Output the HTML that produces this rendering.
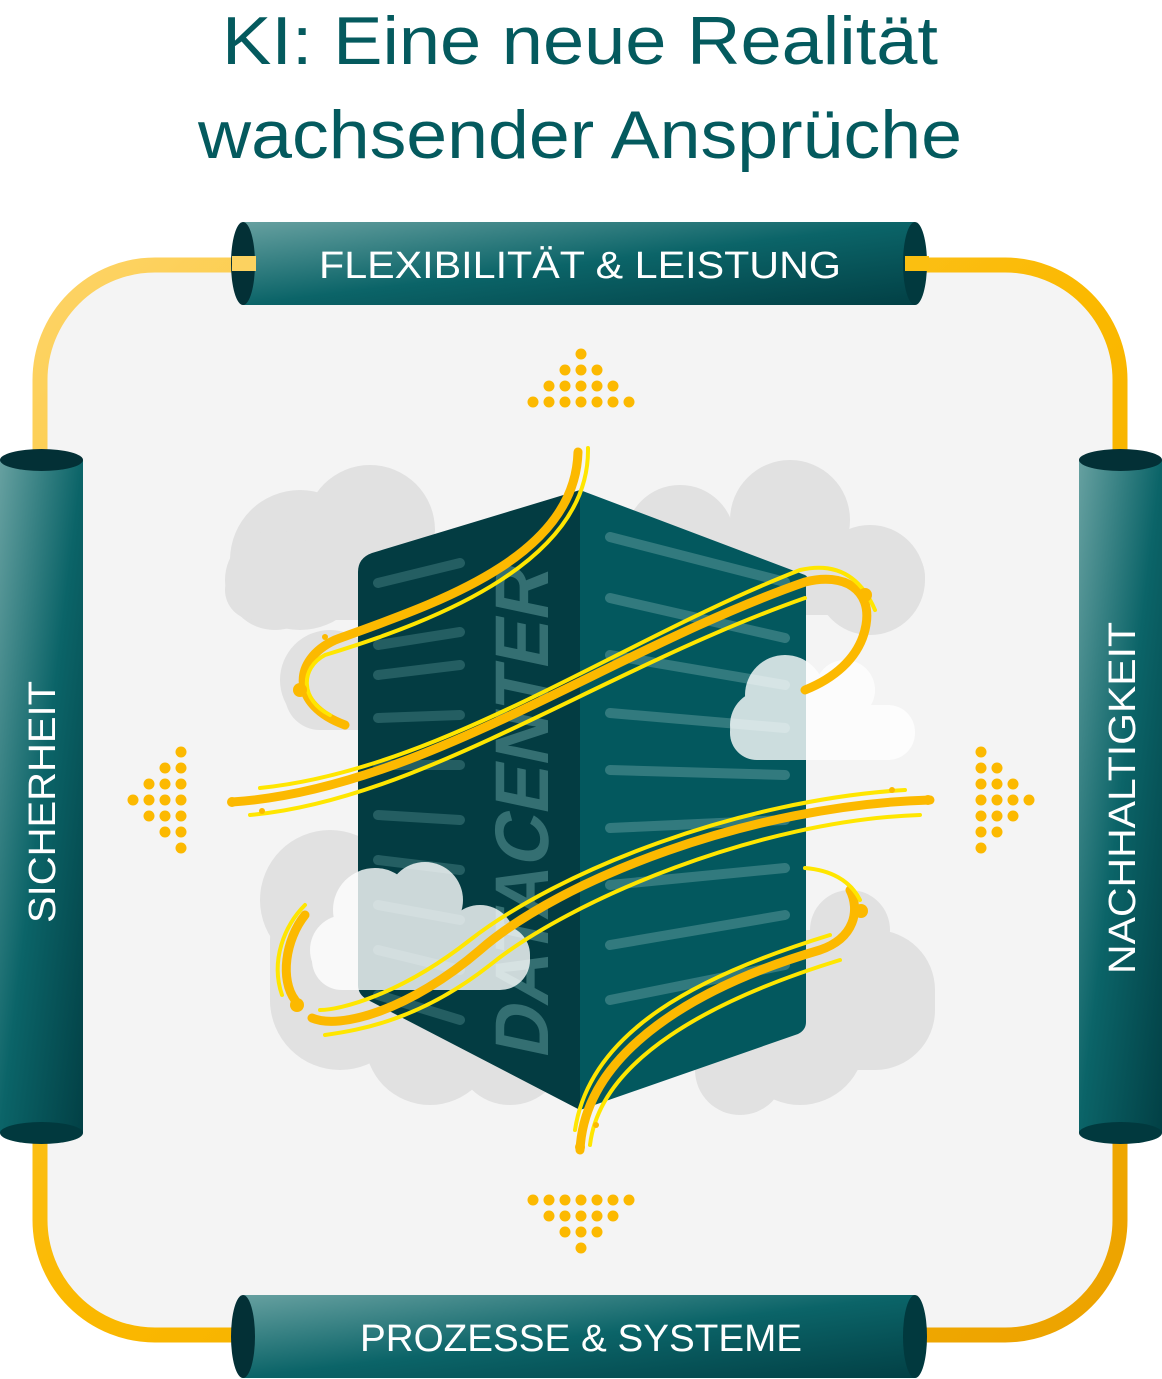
<!DOCTYPE html>
<html><head><meta charset="utf-8"><style>html,body{margin:0;padding:0;background:#fff}svg{display:block}</style></head>
<body>
<svg width="1162" height="1379" viewBox="0 0 1162 1379" xmlns="http://www.w3.org/2000/svg">
<defs>
<linearGradient id="fr" x1="0" y1="0" x2="1" y2="1"><stop offset="0" stop-color="#fdd468"/><stop offset="0.5" stop-color="#fbb900"/><stop offset="1" stop-color="#eca200"/></linearGradient>
<linearGradient id="ph" x1="0" y1="0" x2="1" y2="1"><stop offset="0" stop-color="#66a0a0"/><stop offset="0.5" stop-color="#0b6468"/><stop offset="1" stop-color="#024045"/></linearGradient>
<linearGradient id="pv" x1="0" y1="0" x2="1" y2="1"><stop offset="0" stop-color="#66a0a0"/><stop offset="0.5" stop-color="#0b6468"/><stop offset="1" stop-color="#024045"/></linearGradient>
</defs>
<rect x="40" y="265" width="1080" height="1070" rx="115" fill="#f4f4f4" stroke="url(#fr)" stroke-width="15"/>
<text x="580" y="64" text-anchor="middle" font-family="Liberation Sans, sans-serif" font-size="68" fill="#045a5e" textLength="716" lengthAdjust="spacingAndGlyphs">KI: Eine neue Realität</text>
<text x="580" y="158" text-anchor="middle" font-family="Liberation Sans, sans-serif" font-size="68" fill="#045a5e" textLength="764" lengthAdjust="spacingAndGlyphs">wachsender Ansprüche</text>
<!-- pipes -->
<rect x="243" y="222" width="672" height="83" fill="url(#ph)"/>
<ellipse cx="915" cy="263.5" rx="12" ry="41.5" fill="#01393e"/>
<ellipse cx="243" cy="263.5" rx="12" ry="41.5" fill="#033036"/>
<text x="580" y="278" text-anchor="middle" font-family="Liberation Sans, sans-serif" font-size="38" fill="#fff" textLength="522" lengthAdjust="spacingAndGlyphs">FLEXIBILITÄT &amp; LEISTUNG</text>
<rect x="243" y="1295" width="672" height="83" fill="url(#ph)"/>
<ellipse cx="915" cy="1336.5" rx="12" ry="41.5" fill="#01393e"/>
<ellipse cx="243" cy="1336.5" rx="12" ry="41.5" fill="#033036"/>
<text x="581" y="1351" text-anchor="middle" font-family="Liberation Sans, sans-serif" font-size="38" fill="#fff" textLength="442" lengthAdjust="spacingAndGlyphs">PROZESSE &amp; SYSTEME</text>
<rect x="0" y="460" width="83" height="673" fill="url(#pv)"/>
<ellipse cx="41.5" cy="1133" rx="41.5" ry="11" fill="#01393e"/>
<ellipse cx="41.5" cy="460" rx="41.5" ry="11" fill="#033036"/>
<text transform="translate(55,802) rotate(-90)" text-anchor="middle" font-family="Liberation Sans, sans-serif" font-size="38" fill="#fff" textLength="242" lengthAdjust="spacingAndGlyphs">SICHERHEIT</text>
<rect x="1079" y="460" width="83" height="673" fill="url(#pv)"/>
<ellipse cx="1120.5" cy="1133" rx="41.5" ry="11" fill="#01393e"/>
<ellipse cx="1120.5" cy="460" rx="41.5" ry="11" fill="#033036"/>
<text transform="translate(1135,798) rotate(-90)" text-anchor="middle" font-family="Liberation Sans, sans-serif" font-size="38" fill="#fff" textLength="352" lengthAdjust="spacingAndGlyphs">NACHHALTIGKEIT</text>
<!-- yellow stubs into pipes -->
<rect x="232" y="256" width="24" height="15" fill="#fcd260"/>
<rect x="905" y="256" width="24" height="15" fill="#fbbf10"/>
<!-- dot arrows -->
<g fill="#fcb900">
<circle cx="581" cy="354" r="5.5"/>
<circle cx="565" cy="370" r="5.5"/><circle cx="581" cy="370" r="5.5"/><circle cx="597" cy="370" r="5.5"/>
<circle cx="549" cy="386" r="5.5"/><circle cx="565" cy="386" r="5.5"/><circle cx="581" cy="386" r="5.5"/><circle cx="597" cy="386" r="5.5"/><circle cx="613" cy="386" r="5.5"/>
<circle cx="533" cy="402" r="5.5"/><circle cx="549" cy="402" r="5.5"/><circle cx="565" cy="402" r="5.5"/><circle cx="581" cy="402" r="5.5"/><circle cx="597" cy="402" r="5.5"/><circle cx="613" cy="402" r="5.5"/><circle cx="629" cy="402" r="5.5"/>
<circle cx="581" cy="1248" r="5.5"/>
<circle cx="565" cy="1232" r="5.5"/><circle cx="581" cy="1232" r="5.5"/><circle cx="597" cy="1232" r="5.5"/>
<circle cx="549" cy="1216" r="5.5"/><circle cx="565" cy="1216" r="5.5"/><circle cx="581" cy="1216" r="5.5"/><circle cx="597" cy="1216" r="5.5"/><circle cx="613" cy="1216" r="5.5"/>
<circle cx="533" cy="1200" r="5.5"/><circle cx="549" cy="1200" r="5.5"/><circle cx="565" cy="1200" r="5.5"/><circle cx="581" cy="1200" r="5.5"/><circle cx="597" cy="1200" r="5.5"/><circle cx="613" cy="1200" r="5.5"/><circle cx="629" cy="1200" r="5.5"/>
<circle cx="133" cy="800" r="5.5"/>
<circle cx="149" cy="784" r="5.5"/><circle cx="149" cy="800" r="5.5"/><circle cx="149" cy="816" r="5.5"/>
<circle cx="165" cy="768" r="5.5"/><circle cx="165" cy="784" r="5.5"/><circle cx="165" cy="800" r="5.5"/><circle cx="165" cy="816" r="5.5"/><circle cx="165" cy="832" r="5.5"/>
<circle cx="181" cy="752" r="5.5"/><circle cx="181" cy="768" r="5.5"/><circle cx="181" cy="784" r="5.5"/><circle cx="181" cy="800" r="5.5"/><circle cx="181" cy="816" r="5.5"/><circle cx="181" cy="832" r="5.5"/><circle cx="181" cy="848" r="5.5"/>
<circle cx="1029" cy="800" r="5.5"/>
<circle cx="1013" cy="784" r="5.5"/><circle cx="1013" cy="800" r="5.5"/><circle cx="1013" cy="816" r="5.5"/>
<circle cx="997" cy="768" r="5.5"/><circle cx="997" cy="784" r="5.5"/><circle cx="997" cy="800" r="5.5"/><circle cx="997" cy="816" r="5.5"/><circle cx="997" cy="832" r="5.5"/>
<circle cx="981" cy="752" r="5.5"/><circle cx="981" cy="768" r="5.5"/><circle cx="981" cy="784" r="5.5"/><circle cx="981" cy="800" r="5.5"/><circle cx="981" cy="816" r="5.5"/><circle cx="981" cy="832" r="5.5"/><circle cx="981" cy="848" r="5.5"/>
</g>
<!-- gray clouds -->
<g fill="#e1e1e1">
<circle cx="300" cy="560" r="70"/><circle cx="370" cy="530" r="65"/><circle cx="275" cy="580" r="50"/><rect x="225" y="560" width="200" height="60" rx="30"/>
<circle cx="330" cy="680" r="50"/><rect x="285" y="650" width="130" height="80" rx="35"/>
<circle cx="680" cy="540" r="55"/><circle cx="790" cy="520" r="60"/><circle cx="870" cy="580" r="55"/><rect x="640" y="540" width="285" height="75" rx="37"/>
<circle cx="330" cy="900" r="70"/><circle cx="340" cy="1000" r="70"/><circle cx="430" cy="1040" r="65"/><circle cx="510" cy="1050" r="55"/><rect x="270" y="880" width="300" height="180" rx="60"/>
<circle cx="800" cy="1040" r="65"/><circle cx="870" cy="990" r="60"/><circle cx="850" cy="930" r="40"/><circle cx="740" cy="1070" r="45"/><rect x="700" y="930" width="235" height="140" rx="60"/>
</g>
<!-- server -->
<path d="M580,490 L805,575 Q810,578 806,585 L806,1022 Q806,1030 798,1034 L580,1110 Z" fill="#03585e"/>
<path d="M580,490 L372,553 Q358,558 358,572 L358,985 Q358,995 368,1000 L580,1110 Z" fill="#033c42"/>
<g stroke="#3b8084" stroke-width="10" stroke-linecap="round" opacity="0.85">
<line x1="610" y1="537" x2="785" y2="582"/><line x1="610" y1="598" x2="785" y2="638"/><line x1="610" y1="655" x2="785" y2="685"/>
<line x1="610" y1="713" x2="785" y2="728"/><line x1="610" y1="770" x2="785" y2="775"/><line x1="610" y1="828" x2="785" y2="820"/>
<line x1="610" y1="885" x2="785" y2="868"/><line x1="610" y1="945" x2="785" y2="915"/><line x1="610" y1="1000" x2="785" y2="965"/>
</g>
<g stroke="#2a6468" stroke-width="10" stroke-linecap="round" opacity="0.85">
<line x1="378" y1="583" x2="460" y2="563"/><line x1="378" y1="645" x2="460" y2="632"/><line x1="378" y1="675" x2="460" y2="665"/>
<line x1="378" y1="718" x2="460" y2="715"/><line x1="378" y1="765" x2="460" y2="765"/><line x1="378" y1="815" x2="460" y2="820"/>
<line x1="378" y1="860" x2="460" y2="870"/><line x1="378" y1="905" x2="460" y2="920"/><line x1="378" y1="950" x2="460" y2="970"/><line x1="378" y1="995" x2="460" y2="1020"/>
</g>
<text transform="translate(548,1060) rotate(-90) skewX(-12)" font-family="Liberation Sans, sans-serif" font-weight="bold" font-size="76" fill="#4a8587" opacity="0.7" textLength="490" lengthAdjust="spacingAndGlyphs">DATACENTER</text>
<!-- light clouds -->
<g fill="#ffffff" opacity="0.8">
<circle cx="785" cy="695" r="40"/><circle cx="845" cy="690" r="30"/><circle cx="765" cy="725" r="35"/><rect x="730" y="705" width="185" height="55" rx="27"/>
<circle cx="375" cy="910" r="42"/><circle cx="425" cy="900" r="38"/><circle cx="480" cy="940" r="35"/><circle cx="345" cy="950" r="35"/><rect x="312" y="925" width="218" height="65" rx="30"/>
</g>
<!-- swooshes -->
<g fill="none" stroke-linecap="round">
<g stroke="#fcb900" stroke-width="9">
<path d="M578,452 C575,560 430,605 335,640 C292,660 290,705 345,725"/>
<path d="M232,802 C420,790 610,650 805,582 C845,572 872,590 866,625 C860,660 830,680 805,690"/>
<path d="M930,800 C750,805 560,880 480,950 C410,1010 340,1030 312,1018"/>
<path d="M295,1000 C280,980 285,940 305,915"/>
<path d="M580,1150 C585,1050 700,985 820,950 C855,938 860,910 850,890"/>
</g>
<g stroke="#ffe600" stroke-width="4">
<path d="M588,448 C590,560 440,620 325,655 C300,668 300,700 330,715"/>
<path d="M260,788 C440,770 620,640 800,570 C835,562 860,575 875,610"/>
<path d="M250,815 C420,800 600,670 805,598"/>
<path d="M905,790 C740,800 560,870 470,940 C400,995 340,1010 320,1010"/>
<path d="M920,815 C760,820 570,900 490,965 C420,1020 360,1030 325,1035"/>
<path d="M575,1130 C590,1030 700,975 830,935"/>
<path d="M590,1145 C600,1060 710,1000 840,960"/>
<path d="M805,868 C830,870 850,880 860,900"/>
<path d="M282,995 C270,960 285,925 305,905"/>
</g>
</g>
<g fill="#fcb900">
<circle cx="300" cy="690" r="7"/><circle cx="865" cy="595" r="7"/><circle cx="861" cy="911" r="7"/><circle cx="297" cy="1005" r="7"/>
<circle cx="232" cy="802" r="5"/><circle cx="928" cy="800" r="5"/><circle cx="580" cy="1147" r="5"/><circle cx="325" cy="637" r="3"/><circle cx="262" cy="811" r="3"/><circle cx="892" cy="790" r="3"/><circle cx="596" cy="1125" r="3"/>
</g>
</svg>
</body></html>
